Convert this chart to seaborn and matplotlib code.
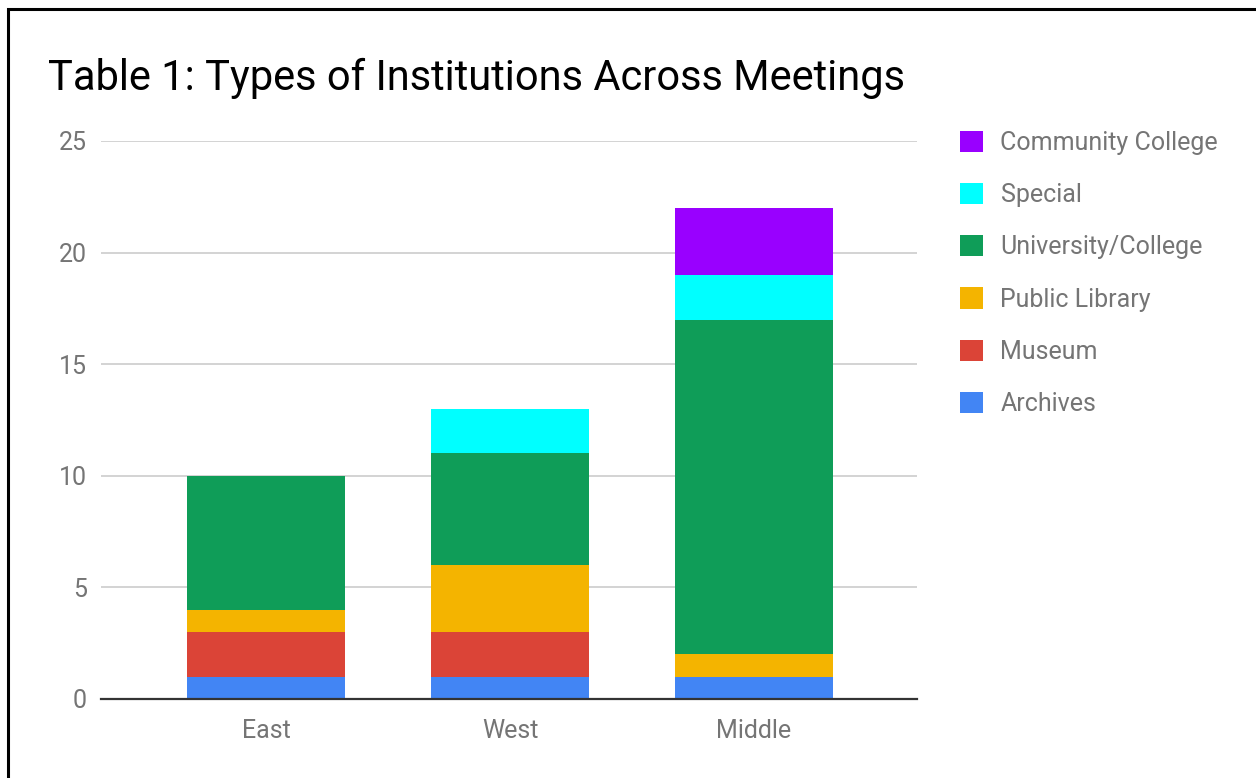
import numpy as np
import matplotlib
matplotlib.use("Agg")
import matplotlib.pyplot as plt
import seaborn as sns
from matplotlib.patches import Rectangle

# ── data ──────────────────────────────────────────────────────────────
regions = ["East", "West", "Middle"]
archives = [1, 1, 1]
museum = [2, 2, 0]
public_library = [1, 3, 1]
university = [6, 5, 15]
special = [0, 2, 2]
community_college = [0, 0, 3]

series_names = ["Archives", "Museum", "Public Library",
                "University/College", "Special", "Community College"]
series_values = [archives, museum, public_library,
                 university, special, community_college]
colors = ["#4285F4", "#DB4437", "#F4B400", "#0F9D58", "#00FFFF", "#9900FF"]
y_ticks = [0, 5, 10, 15, 20, 25]


def main():
    sns.set_style("white")
    plt.rcParams["font.family"] = ["Roboto", "DejaVu Sans"]

    fig = plt.figure(figsize=(12.56, 7.78), dpi=100)
    ax = fig.add_axes([101 / 1256, 1 - 699 / 778, 816 / 1256, 558 / 778])

    # ── stacked bars ──────────────────────────────────────────────────
    bottoms = np.zeros(len(regions))
    for name, vals, col in zip(series_names, series_values, colors):
        sns.barplot(x=regions, y=vals, bottom=bottoms, color=col,
                    saturation=1, width=0.645, label=name, ax=ax,
                    linewidth=0, zorder=3)
        bottoms = bottoms + np.array(vals)

    # ── axes styling ──────────────────────────────────────────────────
    ax.set_ylim(0, 25)
    ax.set_xlim(-0.676, 2.668)
    ax.set_yticks(y_ticks)
    ax.yaxis.grid(True, color="#cccccc", linewidth=1.2, zorder=0)
    ax.xaxis.grid(False)
    for s in ["top", "right", "left"]:
        ax.spines[s].set_visible(False)
    ax.spines["bottom"].set_color("#333333")
    ax.spines["bottom"].set_linewidth(1.6)
    ax.spines["bottom"].set_zorder(4)
    ax.tick_params(axis="y", length=0, pad=10, labelsize=18, labelcolor="#757575")
    ax.tick_params(axis="x", length=0, pad=14.5, labelsize=18, labelcolor="#757575")
    ax.set_xlabel("")
    ax.set_ylabel("")

    # ── legend (reverse order, outside right) ─────────────────────────
    handles, labels = ax.get_legend_handles_labels()
    if ax.get_legend() is not None:
        ax.get_legend().remove()
    leg = fig.legend(handles[::-1], labels[::-1], loc="upper left",
                     bbox_to_anchor=(950 / 1256, 1 - 121 / 778),
                     frameon=False, fontsize=18, handlelength=0.92,
                     handleheight=0.92, handletextpad=0.7, labelspacing=1.12,
                     borderaxespad=0)
    for t in leg.get_texts():
        t.set_color("#757575")

    # ── title ─────────────────────────────────────────────────────────
    fig.text(48 / 1256, 1 - 90 / 778, "Table 1: Types of Institutions Across Meetings",
             fontsize=30, color="black", ha="left", va="baseline")

    # ── border (left & top only visible) ─────────────────────────────
    fig.patches.append(Rectangle((8 / 1256, -0.2), 1.2, 1.2 - 9 / 778,
                                 transform=fig.transFigure, fill=False,
                                 edgecolor="black", linewidth=2.2))

    fig.savefig("out.png", dpi=100)


if __name__ == "__main__":
    main()
